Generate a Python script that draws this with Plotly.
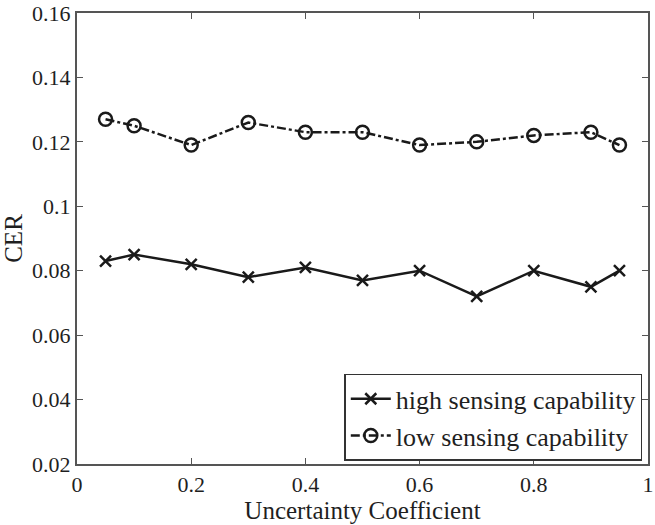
import plotly.graph_objects as go

x_vals = [0.05, 0.1, 0.2, 0.3, 0.4, 0.5, 0.6, 0.7, 0.8, 0.9, 0.95]
high_cer = [0.083, 0.085, 0.082, 0.078, 0.081, 0.077, 0.080, 0.072, 0.080, 0.075, 0.080]
low_cer = [0.127, 0.125, 0.119, 0.126, 0.123, 0.123, 0.119, 0.120, 0.122, 0.123, 0.119]
x_ticks = [0, 0.2, 0.4, 0.6, 0.8, 1]
y_ticks = [0.02, 0.04, 0.06, 0.08, 0.1, 0.12, 0.14, 0.16]
y_tick_text = ["0.02", "0.04", "0.06", "0.08", "0.1", "0.12", "0.14", "0.16"]

fig = go.Figure()
fig.add_trace(go.Scatter(
    x=x_vals, y=high_cer, mode="lines+markers", name="high sensing capability",
    line=dict(color="#1a1a1a", width=2.5),
    marker=dict(symbol="x-thin-open", size=11, line=dict(color="#1a1a1a", width=2.5)),
))
fig.add_trace(go.Scatter(
    x=x_vals, y=low_cer, mode="lines+markers", name="low sensing capability",
    line=dict(color="#1a1a1a", width=2.5, dash="dashdot"),
    marker=dict(symbol="circle-open", size=13, line=dict(color="#1a1a1a", width=2.5)),
))

font_family = "Liberation Serif, Times New Roman, serif"
fig.update_layout(
    width=655, height=525,
    margin=dict(l=77, r=1, t=10, b=61),
    paper_bgcolor="white", plot_bgcolor="white",
    font=dict(family=font_family, size=22, color="#1f1f1f"),
    showlegend=True,
    legend=dict(
        x=0.99, y=0.007, xanchor="right", yanchor="bottom",
        bordercolor="#333", borderwidth=1.5, bgcolor="white",
        font=dict(size=26, family=font_family, color="#1f1f1f"),
        tracegroupgap=0, itemwidth=40,
    ),
    xaxis=dict(
        range=[0, 1], tickvals=x_ticks, ticktext=["0", "0.2", "0.4", "0.6", "0.8", "1"],
        ticks="inside", ticklen=6, tickcolor="#555", showline=True, linecolor="#555",
        linewidth=2, mirror="ticks", showgrid=False, zeroline=False,
        ticklabeloverflow="allow",
        title=dict(text="Uncertainty Coefficient", font=dict(size=25), standoff=0),
        tickfont=dict(size=22),
    ),
    yaxis=dict(
        range=[0.02, 0.16], tickvals=y_ticks, ticktext=y_tick_text,
        ticks="inside", ticklen=6, tickcolor="#555", showline=True, linecolor="#555",
        linewidth=2, mirror="ticks", showgrid=False, zeroline=False,
        ticklabeloverflow="allow",
        title=dict(text="CER", font=dict(size=25), standoff=5),
        tickfont=dict(size=22),
    ),
)

fig.write_html("out.html")
